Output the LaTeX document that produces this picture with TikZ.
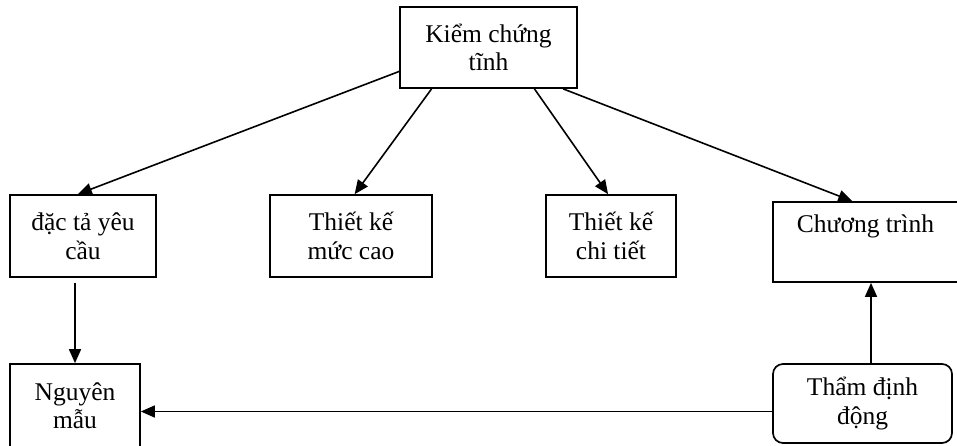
\documentclass[tikz,border=0pt]{standalone}
\usepackage{fontspec}
\setmainfont{Liberation Serif}
\usetikzlibrary{arrows.meta}

\begin{document}
\begin{tikzpicture}[x=1pt,y=-1pt,
		box/.style={draw,line width=1.7pt,inner sep=0pt,align=center,font=\fontsize{25.5}{28.5}\selectfont},
		arr/.style={line width=1.6pt,-{Triangle[length=14pt,width=12pt]}}]
		\useasboundingbox (0,0) rectangle (957,445);
		
		\node[box,minimum width=177pt,minimum height=81pt] (kiem) at (488.5,47.5) {Kiểm chứng\\tĩnh};
		
		\node[box,minimum width=146pt,minimum height=82pt] (dacta) at (83,236) {đặc tả yêu\\cầu};
		\node[box,minimum width=162pt,minimum height=82pt] (muccao) at (351,236) {Thiết kế\\mức cao};
		\node[box,minimum width=130pt,minimum height=82pt] (chitiet) at (611,236) {Thiết kế\\chi tiết};
		\node[box,minimum width=185pt,minimum height=80pt] (chuong) at (865.5,242) {Chương trình\\\strut};
		
		\node[box,minimum width=130pt,minimum height=83pt] (nguyen) at (75,405.5) {Nguyên\\mẫu};
		\node[box,rounded corners=10pt,minimum width=179pt,minimum height=79pt] (tham) at (862.5,403.5) {Thẩm định\\động};
		
		\draw[arr] (kiem.195) -- (dacta.97);
		\draw[arr] (kiem.216) -- (muccao.85);
		\draw[arr] (kiem.318) -- (chitiet.94);
		\draw[arr] (kiem.331) -- (chuong.108);
		
		\draw[arr,shorten <=5pt] (nguyen.north |- dacta.south) -- (nguyen.north);
		
		\coordinate (thamw) at ([yshift=-8pt]tham.west);
		\coordinate (thamn) at ([xshift=8.5pt]tham.north);
		\draw[arr] (thamw) -- (nguyen.east |- thamw);
		\draw[arr] (thamn) -- (thamn |- chuong.south);
	\end{tikzpicture}
\end{document}
